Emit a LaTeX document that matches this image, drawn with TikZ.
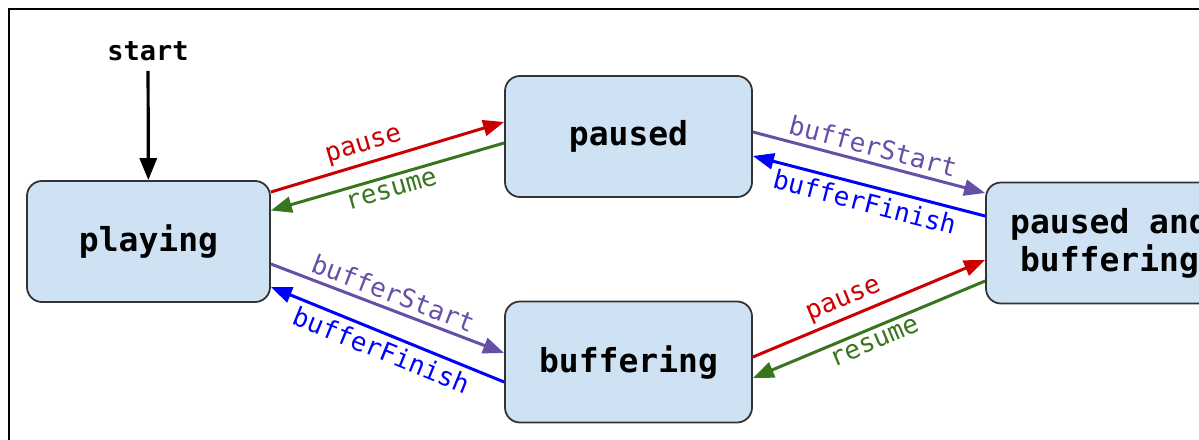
\documentclass[tikz,border=0pt]{standalone}
\usepackage{fontspec}
\setmonofont{DejaVu Sans Mono}
\usetikzlibrary{arrows.meta,calc}
\definecolor{statefill}{HTML}{CFE2F3}
\definecolor{pausered}{HTML}{CC0000}
\definecolor{resumegreen}{HTML}{38761D}
\definecolor{startpurple}{HTML}{674EA7}
\definecolor{finishblue}{HTML}{0000FF}

\begin{document}
\begin{tikzpicture}[x=1pt,y=-1pt,
    state/.style={draw=black!80,line width=1.8pt,fill=statefill,rounded corners=15pt,
      minimum width=247pt,minimum height=121pt,align=center,
      font=\ttfamily\bfseries\fontsize{33}{38}\selectfont},
    trans/.style={line width=3pt,-{Triangle[length=21pt,width=16pt]}},
    lbl/.style={font=\ttfamily\fontsize{26}{30}\selectfont,sloped,inner sep=5pt}]
      \useasboundingbox (0,0) rectangle (1199,439);
      \clip (0,0) rectangle (1199,439);
      \draw[line width=2.5pt] (9,460) -- (9,9) -- (1220,9);
      \node[state,minimum width=243pt] (playing) at (148.5,241.5) {playing};
      \node[state] (paused) at (628.5,136.5) {paused};
      \node[state] (buffering) at (628.5,362) {buffering};
      \node[state] (pausedbuf) at (1109.5,243) {paused and\\buffering};
      \node[font=\ttfamily\bfseries\fontsize{27}{30}\selectfont,inner sep=10pt] (start) at (148,51) {start};
      \draw[line width=3.2pt,-{Triangle[length=22pt,width=17pt]}] (start) -- (playing);
      \draw[trans,pausered] ($(playing.east)+(0,-49.5)$) -- ($(paused.west)+(0,-14.5)$)
        node[lbl,pos=0.42,above] {pause};
      \draw[trans,resumegreen] ($(paused.west)+(0,6.5)$) -- ($(playing.east)+(0,-31)$)
        node[lbl,midway,below] {resume};
      \draw[trans,startpurple] ($(playing.east)+(0,22.5)$) -- ($(buffering.west)+(0,-9)$)
        node[lbl,midway,above] {bufferStart};
      \draw[trans,finishblue] ($(buffering.west)+(0,20)$) -- ($(playing.east)+(0,45.5)$)
        node[lbl,midway,below] {bufferFinish};
      \draw[trans,startpurple] ($(paused.east)+(0,-4.5)$) -- ($(pausedbuf.west)+(0,-50)$)
        node[lbl,midway,above] {bufferStart};
      \draw[trans,finishblue] ($(pausedbuf.west)+(0,-27)$) -- ($(paused.east)+(0,19.5)$)
        node[lbl,midway,below] {bufferFinish};
      \draw[trans,pausered] ($(buffering.east)+(0,-5)$) -- ($(pausedbuf.west)+(0,17)$)
        node[lbl,pos=0.42,above] {pause};
      \draw[trans,resumegreen] ($(pausedbuf.west)+(0,38)$) -- ($(buffering.east)+(0,16)$)
        node[lbl,midway,below] {resume};
    \end{tikzpicture}
\end{document}
